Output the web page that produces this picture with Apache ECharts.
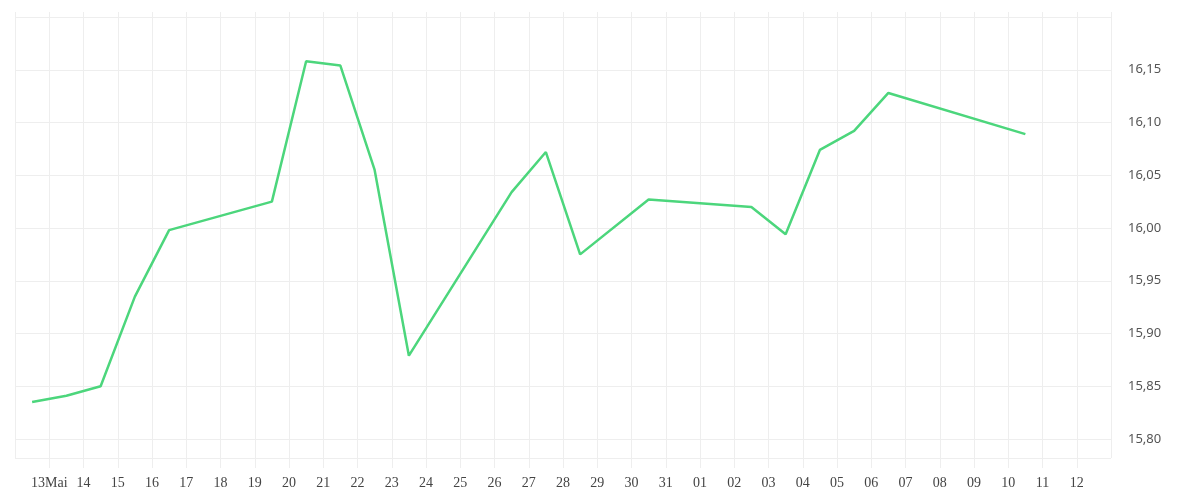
<!DOCTYPE html>
<html>
<head>
<meta charset="utf-8">
<style>
  html, body { margin: 0; padding: 0; background: #ffffff; }
  #chart { width: 1200px; height: 500px; }
</style>
<script src="https://cdn.jsdelivr.net/npm/echarts@6/dist/echarts.min.js"></script>
</head>
<body>
<div id="chart"></div>
<script>
// Trading days (value recorded at midday)
const dates = [
  '2025-05-12', '2025-05-13', '2025-05-14', '2025-05-15', '2025-05-16',
  '2025-05-19', '2025-05-20', '2025-05-21', '2025-05-22', '2025-05-23',
  '2025-05-26', '2025-05-27', '2025-05-28', '2025-05-30',
  '2025-06-02', '2025-06-03', '2025-06-04', '2025-06-05', '2025-06-06',
  '2025-06-10'
];
const values = [
  15.835, 15.841, 15.850, 15.935, 15.998,
  16.025, 16.158, 16.154, 16.055, 15.879,
  16.034, 16.072, 15.975, 16.027,
  16.020, 15.994, 16.074, 16.092, 16.128,
  16.089
];
const xRange = ['2025-05-12', '2025-06-13'];
const yRange = [15.782, 16.20];
const yStep = 0.05;
const monthLabels = { '2025-05-13': '13Mai' };

const DAY = 86400000;
const toMs = (d, h) => Date.parse(d + 'T' + (h || '00') + ':00:00Z');
const seriesData = dates.map((d, i) => [toMs(d, '12'), values[i]]);

function xLabel(v) {
  const dt = new Date(v);
  const key = dt.toISOString().slice(0, 10);
  if (monthLabels[key]) return monthLabels[key];
  return String(dt.getUTCDate()).padStart(2, '0');
}

const gridColor = '#eeeeee';
const chart = echarts.init(document.getElementById('chart'), null, { renderer: 'canvas' });
chart.setOption({
  animation: false,
  backgroundColor: '#ffffff',
  grid: { left: 15, right: 89, top: 17, bottom: 42, containLabel: false },
  xAxis: [{
    type: 'value',
    min: toMs(xRange[0]),
    max: toMs(xRange[1]),
    interval: DAY,
    position: 'bottom',
    axisLine: { show: false },
    axisTick: { show: true, length: 10, lineStyle: { color: gridColor, width: 1 } },
    splitLine: { show: true, lineStyle: { color: gridColor, width: 1 } },
    axisLabel: {
      show: true, showMinLabel: false, showMaxLabel: false,
      formatter: xLabel,
      fontFamily: 'Liberation Serif', fontSize: 14, color: '#444444', margin: 18
    }
  }, {
    type: 'value',
    min: toMs(xRange[0]),
    max: toMs(xRange[1]),
    interval: DAY,
    position: 'top',
    axisLine: { show: false },
    axisTick: { show: true, length: 5, lineStyle: { color: gridColor, width: 1 } },
    splitLine: { show: false },
    axisLabel: { show: false }
  }],
  yAxis: {
    type: 'value',
    position: 'right',
    min: yRange[0],
    max: yRange[1],
    minInterval: yStep,
    maxInterval: yStep,
    splitNumber: 8,
    scale: true,
    axisLine: { show: false },
    axisTick: { show: false },
    splitLine: { show: true, lineStyle: { color: gridColor, width: 1 } },
    axisLabel: {
      showMinLabel: false, showMaxLabel: false,
      formatter: v => v.toFixed(2).replace('.', ','),
      fontFamily: 'Noto Sans', fontSize: 13, color: '#555555', margin: 17
    }
  },
  series: [{
    type: 'line',
    xAxisIndex: 0,
    data: seriesData,
    showSymbol: false,
    symbol: 'none',
    lineStyle: { color: '#4cd67c', width: 2.5 },
    silent: true
  }]
});
</script>
</body>
</html>
